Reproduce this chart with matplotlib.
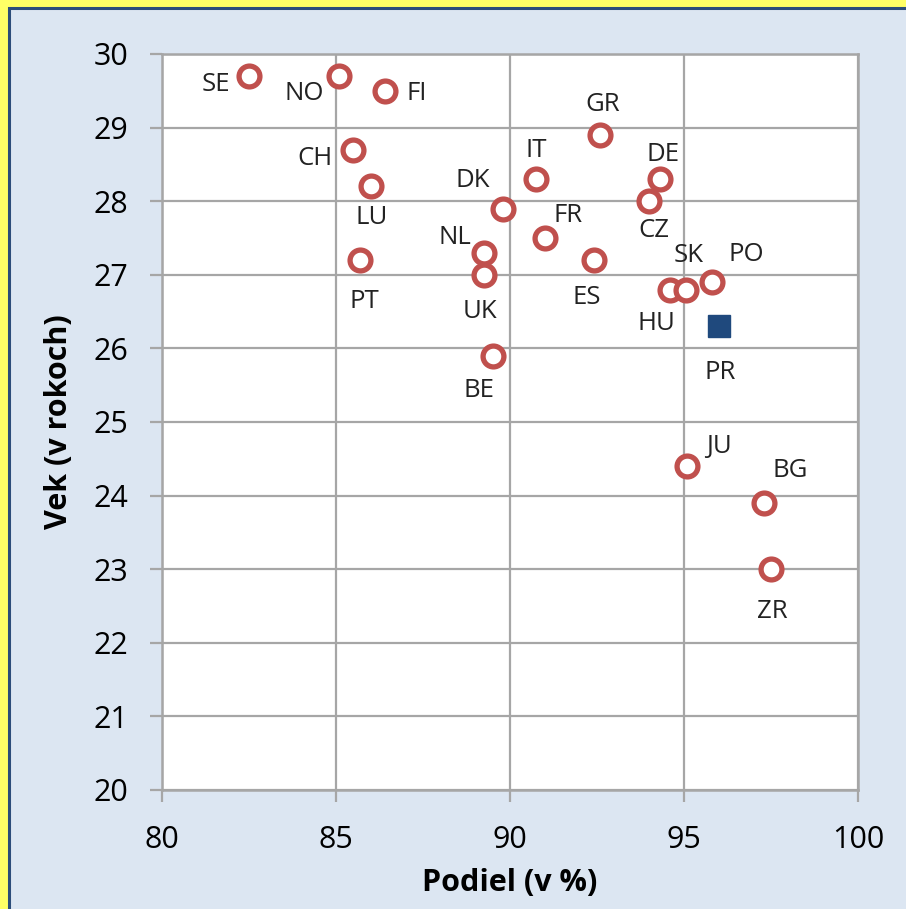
import matplotlib
matplotlib.use("Agg")
import matplotlib.pyplot as plt
import matplotlib.patches as mpatches

# ── Data ───────────────────────────────────────────────────────────────────
countries = ["SE", "NO", "FI", "CH", "LU", "PT", "DK", "NL", "UK", "BE",
             "IT", "FR", "GR", "ES", "DE", "CZ", "HU", "SK", "PO", "JU",
             "BG", "ZR"]
podiel = [82.5, 85.1, 86.4, 85.5, 86.0, 85.7, 89.8, 89.25, 89.25, 89.5,
          90.75, 91.0, 92.6, 92.4, 94.3, 94.0, 94.6, 95.05, 95.8, 95.1,
          97.3, 97.5]
vek = [29.7, 29.7, 29.5, 28.7, 28.2, 27.2, 27.9, 27.3, 27.0, 25.9,
       28.3, 27.5, 28.9, 27.2, 28.3, 28.0, 26.8, 26.8, 26.9, 24.4,
       23.9, 23.0]

pr_label = "PR"
pr_podiel = 96.0
pr_vek = 26.3

x_ticks = [80, 85, 90, 95, 100]
y_ticks = list(range(20, 31))

# label offsets in pixels (dx, dy)
OFFS = {
    "SE": (-33, -8), "NO": (-35, -17), "FI": (32, -3), "CH": (-38, -9),
    "LU": (1, -31), "PT": (4, -41), "DK": (-30, 28), "NL": (-29, 15),
    "UK": (-4, -37), "BE": (-14, -35), "IT": (0, 29), "FR": (23, 22),
    "GR": (2, 30), "ES": (-7, -37), "DE": (3, 25), "CZ": (5, -29),
    "HU": (-14, -34), "SK": (3, 34), "PO": (34, 28), "JU": (31, 20),
    "BG": (26, 32), "ZR": (1, -42),
}

YELLOW = "#ffff66"
BG = "#dce6f2"
FRAME = "#2c4d7a"
RED = "#c0504d"
NAVY = "#1f497d"
GRID = "#a6a6a6"
FONT = "Open Sans"

W, H = 906, 909
fig = plt.figure(figsize=(W / 100, H / 100), dpi=100, facecolor=YELLOW)

# light blue panel with dark blue frame
panel = mpatches.Rectangle((9 / W, -0.05), 1.1, 1 - 8 / H + 0.05,
                           transform=fig.transFigure, facecolor=BG,
                           edgecolor=FRAME, linewidth=2.2, zorder=-10)
fig.patches.append(panel)

ax = fig.add_axes([162 / W, 1 - 790 / H, (858 - 162) / W, (790 - 54) / H])
ax.set_facecolor("white")
ax.set_xlim(80, 100)
ax.set_ylim(20, 30)
ax.set_xticks(x_ticks)
ax.set_yticks(y_ticks)
ax.grid(True, color=GRID, linewidth=1.6, zorder=1)
ax.set_axisbelow(True)
for sp in ax.spines.values():
    sp.set_color(GRID)
    sp.set_linewidth(1.8)
ax.tick_params(axis="both", colors=GRID, length=8.5, width=1.6,
               labelcolor="black", labelsize=22)
ax.tick_params(axis="x", pad=17)
ax.tick_params(axis="y", pad=16)
for lab in ax.get_xticklabels() + ax.get_yticklabels():
    lab.set_fontfamily(FONT)

ax.plot(podiel, vek, "o", markersize=15, markerfacecolor="white",
        markeredgecolor=RED, markeredgewidth=3.8, zorder=3, clip_on=False)
ax.plot([pr_podiel], [pr_vek], "s", markersize=16, color=NAVY, zorder=3)

for name, xv, yv in zip(countries, podiel, vek):
    dx, dy = OFFS[name]
    ax.annotate(name, (xv, yv), xytext=(dx, dy), textcoords="offset pixels",
                ha="center", va="center", fontsize=18.5, family=FONT,
                color="#222222", zorder=4)
ax.annotate(pr_label, (pr_podiel, pr_vek), xytext=(1, -46),
            textcoords="offset pixels", ha="center", va="center",
            fontsize=18.5, family=FONT, color="#222222", zorder=4)

ax.set_xlabel("Podiel (v %)", fontsize=22, fontweight="bold", family=FONT,
              labelpad=9)
ax.set_ylabel("Vek (v rokoch)", fontsize=22, fontweight="bold", family=FONT,
              labelpad=14)

plt.savefig("out.png", dpi=100, facecolor=YELLOW)
